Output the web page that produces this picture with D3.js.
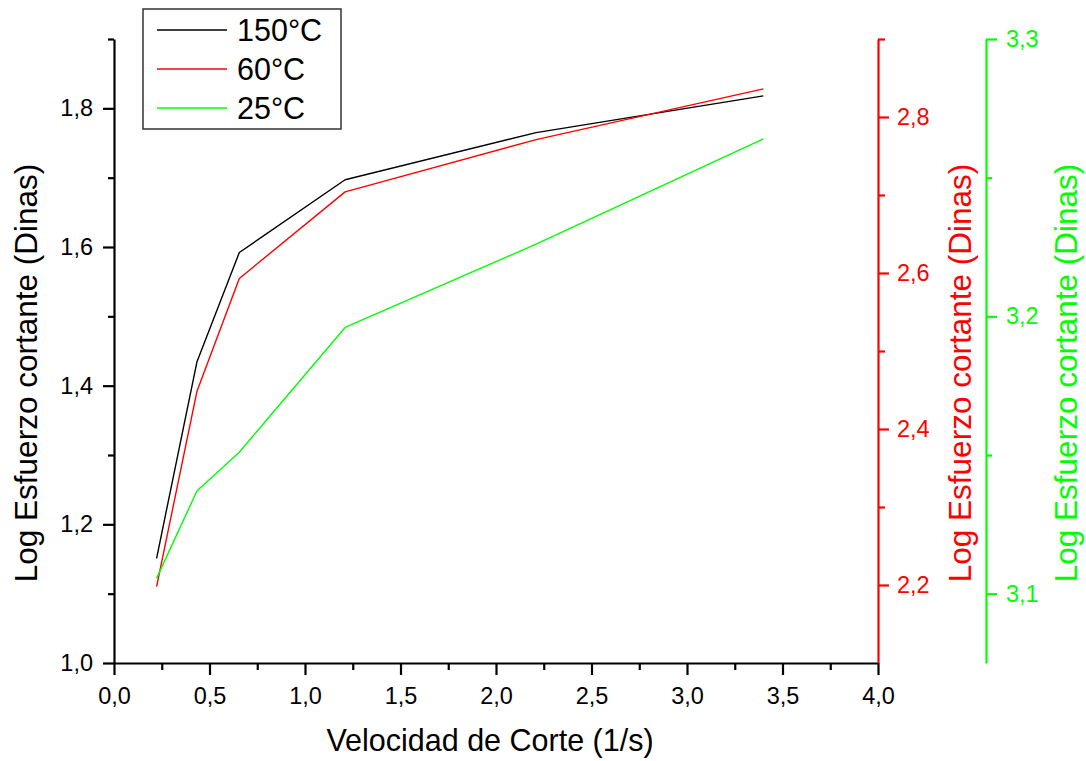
<!DOCTYPE html>
<html>
<head>
<meta charset="utf-8">
<script src="https://cdn.jsdelivr.net/npm/d3@7"></script>
<style>
  html, body { margin: 0; padding: 0; background: #fff; }
  svg { display: block; }
  text { font-family: "Liberation Sans", Arial, sans-serif; }
</style>
</head>
<body>
<svg id="chart" width="1086" height="761"></svg>
<script>
// ---- data ----
const shearRate = [0.223, 0.434, 0.656, 1.21, 2.21, 3.40];
const stress150 = [1.151, 1.434, 1.592, 1.697, 1.765, 1.818];
const stress60  = [2.198, 2.448, 2.593, 2.704, 2.771, 2.836];
const stress25  = [3.1055, 3.137, 3.151, 3.196, 3.226, 3.264];

const seriesNames = ["150°C", "60°C", "25°C"];
const seriesColors = ["#000000", "#ff0000", "#00ff00"];

const xTicks = [0, 0.5, 1, 1.5, 2, 2.5, 3, 3.5, 4];
const xMinor = [0.25, 0.75, 1.25, 1.75, 2.25, 2.75, 3.25, 3.75];
const yLeftTicks = [1.0, 1.2, 1.4, 1.6, 1.8];
const yLeftMinor = [1.1, 1.3, 1.5, 1.7, 1.9];
const yRedTicks = [2.2, 2.4, 2.6, 2.8];
const yRedMinor = [2.3, 2.5, 2.7, 2.9];
const yGreenTicks = [3.1, 3.2, 3.3];
const yGreenMinor = [3.15, 3.25];

const xTitle = "Velocidad de Corte (1/s)";
const yTitle = "Log Esfuerzo cortante (Dinas)";

// ---- layout ----
const svg = d3.select("#chart");
const mLeft = 114, mRight = 878, mTop = 39, mBottom = 663;
const greenX = 986;

const x = d3.scaleLinear().domain([0, 4]).range([mLeft, mRight]);
const yL = d3.scaleLinear().domain([1.0, 1.9]).range([mBottom, mTop]);
const yR = d3.scaleLinear().domain([2.1, 2.9]).range([mBottom, mTop]);
const yG = d3.scaleLinear().domain([3.075, 3.3]).range([mBottom, mTop]);

const fmt1 = d => d3.format(".1f")(d).replace(".", ",");

function styleAxis(g, color, fontSize) {
  g.select(".domain").attr("stroke", color).attr("stroke-width", 2.2);
  g.selectAll(".tick line").attr("stroke", color).attr("stroke-width", 2.2);
  g.selectAll(".tick text").attr("fill", color).attr("font-size", fontSize)
    .attr("font-family", "'Liberation Sans', Arial, sans-serif");
}

// X axis
const gxMinor = svg.append("g").attr("transform", `translate(0,${mBottom})`)
  .call(d3.axisBottom(x).tickValues(xMinor).tickSize(7).tickFormat(""));
gxMinor.select(".domain").remove();
gxMinor.selectAll(".tick line").attr("stroke", "#000").attr("stroke-width", 2.2);
const gx = svg.append("g").attr("transform", `translate(0,${mBottom})`)
  .call(d3.axisBottom(x).tickValues(xTicks).tickSize(12).tickSizeOuter(0).tickPadding(12).tickFormat(fmt1));
styleAxis(gx, "#000", 23.5);

// Left Y axis
const gyMinor = svg.append("g").attr("transform", `translate(${mLeft},0)`)
  .call(d3.axisLeft(yL).tickValues(yLeftMinor).tickSize(6).tickFormat(""));
gyMinor.select(".domain").remove();
gyMinor.selectAll(".tick line").attr("stroke", "#000").attr("stroke-width", 2.2);
const gy = svg.append("g").attr("transform", `translate(${mLeft},0)`)
  .call(d3.axisLeft(yL).tickValues(yLeftTicks).tickSize(11).tickSizeOuter(0).tickPadding(10).tickFormat(fmt1));
styleAxis(gy, "#000", 23.5);

// Red axis
const grMinor = svg.append("g").attr("transform", `translate(${mRight},0)`)
  .call(d3.axisRight(yR).tickValues(yRedMinor).tickSize(7).tickFormat(""));
grMinor.select(".domain").remove();
grMinor.selectAll(".tick line").attr("stroke", "#ff0000").attr("stroke-width", 2.2);
const gr = svg.append("g").attr("transform", `translate(${mRight},0)`)
  .call(d3.axisRight(yR).tickValues(yRedTicks).tickSize(11).tickSizeOuter(0).tickPadding(8).tickFormat(fmt1));
styleAxis(gr, "#ff0000", 23.5);

// Green axis
const ggMinor = svg.append("g").attr("transform", `translate(${greenX},0)`)
  .call(d3.axisRight(yG).tickValues(yGreenMinor).tickSize(6).tickFormat(""));
ggMinor.select(".domain").remove();
ggMinor.selectAll(".tick line").attr("stroke", "#00ff00").attr("stroke-width", 2.2);
const gg = svg.append("g").attr("transform", `translate(${greenX},0)`)
  .call(d3.axisRight(yG).tickValues(yGreenTicks).tickSize(11).tickSizeOuter(0).tickPadding(9).tickFormat(fmt1));
styleAxis(gg, "#00ff00", 23.5);

// ---- lines ----
const series = [
  { vals: stress150, y: yL },
  { vals: stress60, y: yR },
  { vals: stress25, y: yG }
];
series.forEach((s, i) => {
  const line = d3.line().x((d, j) => x(shearRate[j])).y(d => s.y(d));
  svg.append("path").datum(s.vals)
    .attr("d", line)
    .attr("fill", "none")
    .attr("stroke", seriesColors[i])
    .attr("stroke-width", 1.4)
    .attr("stroke-linejoin", "round");
});

// ---- axis titles ----
svg.append("text").attr("x", 490).attr("y", 751)
  .attr("text-anchor", "middle").attr("font-size", 30.5).attr("fill", "#000").text(xTitle);

[[37, "#000"], [971, "#ff0000"], [1077, "#00ff00"]].forEach(([tx, c]) => {
  svg.append("text")
    .attr("transform", `translate(${tx},373) rotate(-90)`)
    .attr("text-anchor", "middle").attr("font-size", 31.5).attr("fill", c).text(yTitle);
});

// ---- legend ----
const lg = svg.append("g");
lg.append("rect").attr("x", 143).attr("y", 9).attr("width", 198).attr("height", 120)
  .attr("fill", "#fff").attr("stroke", "#333").attr("stroke-width", 1.5);
const legendY = d3.scalePoint().domain(seriesNames).range([30, 108]);
seriesNames.forEach((n, i) => {
  const yy = legendY(n);
  lg.append("line").attr("x1", 157).attr("x2", 227).attr("y1", yy).attr("y2", yy)
    .attr("stroke", seriesColors[i]).attr("stroke-width", 1.4);
  lg.append("text").attr("x", 237).attr("y", yy + 10.5).attr("font-size", 30.5)
    .attr("fill", "#000").text(n);
});
</script>
</body>
</html>
